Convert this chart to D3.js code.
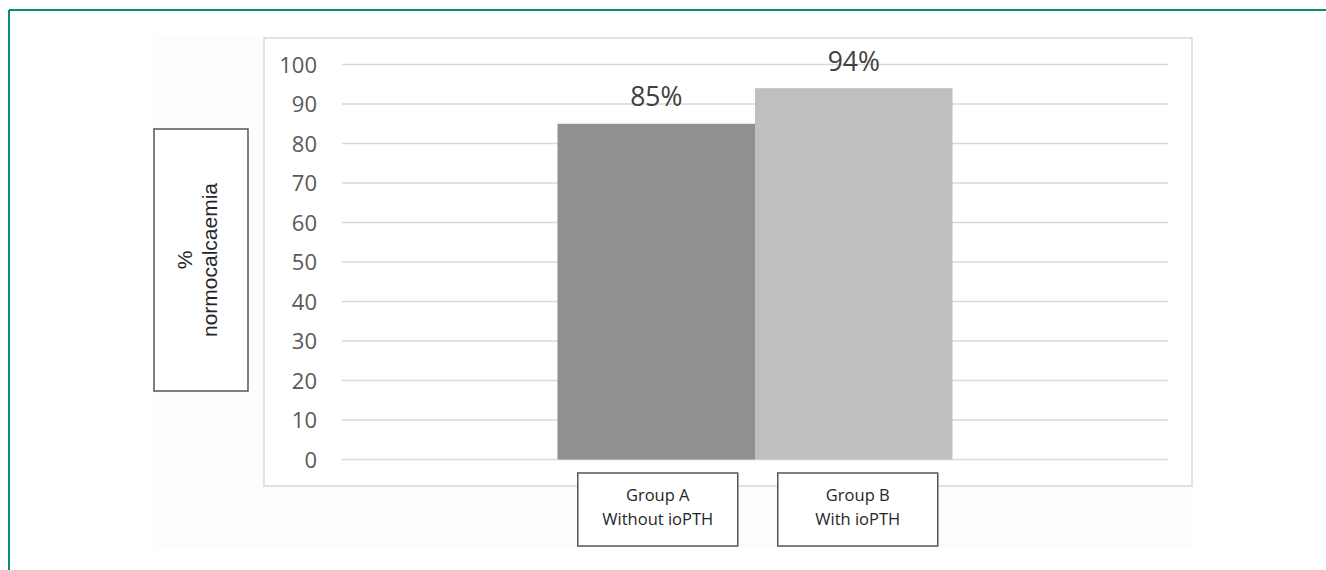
<!DOCTYPE html>
<html>
<head>
<meta charset="utf-8">
<script src="https://cdn.jsdelivr.net/npm/d3@7"></script>
<style>
  html, body { margin: 0; padding: 0; background: #ffffff; }
  svg { display: block; }
</style>
</head>
<body>
<svg id="chart" width="1326" height="570"></svg>
<script>
// ---- data ----
const groupNames = ["Group A", "Group B"];
const groupSubtitles = ["Without ioPTH", "With ioPTH"];
const values = [85, 94];
const barColors = ["#909090", "#bfbfbf"];
const yTicks = [0, 10, 20, 30, 40, 50, 60, 70, 80, 90, 100];
const yTitleLines = ["%", "normocalcaemia"];

const svg = d3.select("#chart");

// outer teal frame (top + left)
svg.append("line").attr("x1", 9).attr("x2", 1326).attr("y1", 10).attr("y2", 10)
  .attr("stroke", "#0a8c7a").attr("stroke-width", 2);
svg.append("line").attr("x1", 9).attr("x2", 9).attr("y1", 10).attr("y2", 570)
  .attr("stroke", "#0a8c7a").attr("stroke-width", 2);

// chart background
svg.append("rect").attr("x", 153).attr("y", 37).attr("width", 1040).attr("height", 510)
  .attr("fill", "#fdfdfd");

// plot area
svg.append("rect").attr("x", 264).attr("y", 38).attr("width", 928).attr("height", 448)
  .attr("fill", "#ffffff").attr("stroke", "#d9d9d9").attr("stroke-width", 1.5);

const gx0 = 342, gx1 = 1168;
const y = d3.scaleLinear().domain([0, 100]).range([459.5, 64.5]);

// single cluster containing both series
const xOuter = d3.scaleBand().domain(["all"]).range([gx0, gx1]).paddingOuter(0.5456).paddingInner(0);
const xInner = d3.scaleBand().domain(groupNames).range([0, xOuter.bandwidth()]).padding(0);
const bx = name => xOuter("all") + xInner(name);

// gridlines
svg.append("g").selectAll("line").data(yTicks).join("line")
  .attr("x1", gx0).attr("x2", gx1)
  .attr("y1", d => y(d)).attr("y2", d => y(d))
  .attr("stroke", "#d9d9d9").attr("stroke-width", 1.3);

// y axis tick labels
const yAxis = d3.axisLeft(y).tickValues(yTicks).tickSize(0).tickPadding(0).tickFormat(d3.format("d"));
const ya = svg.append("g").attr("transform", "translate(317,0)").call(yAxis);
ya.select(".domain").remove();
ya.selectAll("text")
  .attr("font-family", "'Open Sans', sans-serif")
  .attr("font-size", 22)
  .attr("fill", "#595959")
  .attr("dy", "0.36em");

// bars
svg.append("g").selectAll("rect").data(values).join("rect")
  .attr("x", (d, i) => bx(groupNames[i]))
  .attr("width", xInner.bandwidth())
  .attr("y", d => y(d))
  .attr("height", d => y(0) - y(d))
  .attr("fill", (d, i) => barColors[i]);

// value labels
svg.append("g").selectAll("text").data(values).join("text")
  .attr("x", (d, i) => bx(groupNames[i]) + xInner.bandwidth() / 2)
  .attr("y", d => y(d) - 17.5)
  .attr("text-anchor", "middle")
  .attr("font-family", "'Open Sans', sans-serif")
  .attr("font-size", 26.5)
  .attr("fill", "#404040")
  .text(d => d + "%");

// category label boxes
const boxW = 160, boxH = 73, boxTop = 473;
const cat = svg.append("g").selectAll("g").data(groupNames).join("g")
  .attr("transform", (d, i) => `translate(${bx(d) + xInner.bandwidth() / 2 + (i === 0 ? 1.5 : 4)},0)`);
cat.append("rect")
  .attr("x", -boxW / 2).attr("y", boxTop).attr("width", boxW).attr("height", boxH)
  .attr("fill", "#ffffff").attr("stroke", "#555555").attr("stroke-width", 1.5);
cat.append("text")
  .attr("text-anchor", "middle").attr("y", 501)
  .attr("font-family", "'Open Sans', sans-serif").attr("font-size", 16.5).attr("fill", "#262626")
  .text(d => d);
cat.append("text")
  .attr("text-anchor", "middle").attr("y", 524.5)
  .attr("font-family", "'Open Sans', sans-serif").attr("font-size", 16.5).attr("fill", "#262626")
  .text((d, i) => groupSubtitles[i]);

// y axis title box
svg.append("rect").attr("x", 154).attr("y", 129).attr("width", 94).attr("height", 262)
  .attr("fill", "#ffffff").attr("stroke", "#555555").attr("stroke-width", 1.5);
const yt = svg.append("text")
  .attr("transform", "translate(194,260) rotate(-90)")
  .attr("text-anchor", "middle")
  .attr("font-family", "'Liberation Sans', Arial, sans-serif")
  .attr("font-size", 21)
  .attr("fill", "#262626");
yt.selectAll("tspan").data(yTitleLines).join("tspan")
  .attr("x", 0)
  .attr("dy", (d, i) => i === 0 ? "-0.1em" : "1.2em")
  .text(d => d);
</script>
</body>
</html>
